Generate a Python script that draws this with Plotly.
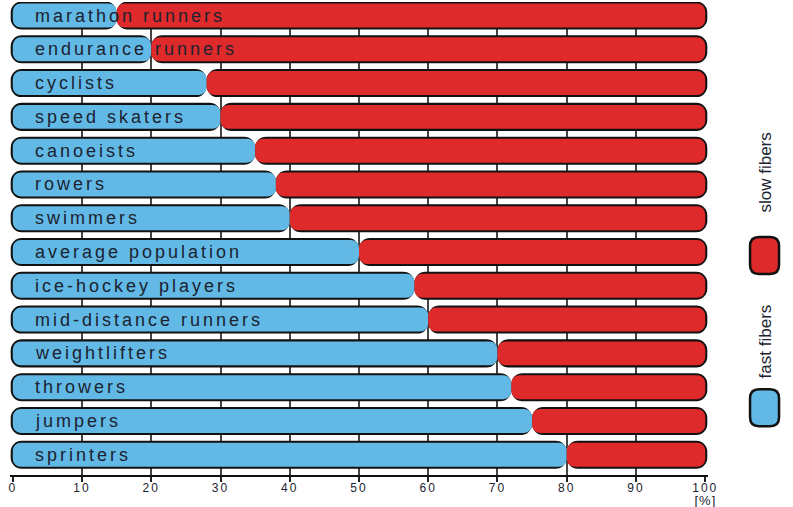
import plotly.graph_objects as go

categories = ["marathon runners", "endurance runners", "cyclists", "speed skaters",
              "canoeists", "rowers", "swimmers", "average population",
              "ice-hockey players", "mid-distance runners", "weightlifters",
              "throwers", "jumpers", "sprinters"]
fast_fibers = [15, 20, 28, 30, 35, 38, 40, 50, 58, 60, 70, 72, 75, 80]
total = 100
slow_fibers = [total - v for v in fast_fibers]
x_ticks = [0, 10, 20, 30, 40, 50, 60, 70, 80, 90, 100]
grid_ticks = x_ticks[1:-1]

BLUE = "#62B9E5"
RED = "#DE2A2B"
INK = "#1b2230"

PAD = 0.3          # outline thickness in x units
BAR_W = 0.71
OUT_W = 0.83
XR = [-0.4, 100.4]

fig = go.Figure()

# black outline layers (behind)
fig.add_trace(go.Bar(y=categories, x=[-(v + PAD) for v in fast_fibers], base=fast_fibers,
                     orientation="h", width=OUT_W, marker=dict(color="#111111", cornerradius=11, line_width=0),
                     hoverinfo="skip", showlegend=False))
fig.add_trace(go.Bar(y=categories, x=[s + PAD for s in slow_fibers], base=fast_fibers,
                     orientation="h", width=OUT_W, marker=dict(color="#111111", cornerradius=11, line_width=0),
                     hoverinfo="skip", showlegend=False))
# fast fibers (blue): drawn from the split back to 0 so the rounded end sits at 0
fig.add_trace(go.Bar(y=categories, x=[-v for v in fast_fibers], base=fast_fibers, xaxis="x2",
                     orientation="h", width=BAR_W, marker=dict(color=BLUE, cornerradius=8, line_width=0),
                     name="fast fibers", showlegend=False))
# slow fibers (red)
fig.add_trace(go.Bar(y=categories, x=slow_fibers, base=fast_fibers, xaxis="x2",
                     orientation="h", width=BAR_W, marker=dict(color=RED, cornerradius=8, line_width=0),
                     name="slow fibers", showlegend=False))

annotations = []
for c in categories:
    annotations.append(dict(x=2.9, y=c, xref="x", yref="y", text=c, showarrow=False,
                            xanchor="left", yanchor="middle", align="left",
                            font=dict(family="Liberation Sans, Arial", size=18, color=INK)))
n_lab = len(annotations)
annotations.append(dict(x=100, y=0, xref="x", yref="paper", text="[%]", showarrow=False,
                        xanchor="center", yanchor="top", yshift=-16,
                        font=dict(family="Liberation Sans, Arial", size=13, color=INK)))
annotations.append(dict(x=1.082, y=0.64, xref="paper", yref="paper", text="slow fibers",
                        showarrow=False, textangle=-90, xanchor="center", yanchor="middle",
                        font=dict(family="Liberation Sans, Arial", size=17, color=INK)))
annotations.append(dict(x=1.082, y=0.283, xref="paper", yref="paper", text="fast fibers",
                        showarrow=False, textangle=-90, xanchor="center", yanchor="middle",
                        font=dict(family="Liberation Sans, Arial", size=17, color=INK)))

def rrect(w, h, r):
    hw, hh = w / 2, h / 2
    return (f"M {-hw + r},{-hh} L {hw - r},{-hh} Q {hw},{-hh} {hw},{-hh + r} "
            f"L {hw},{hh - r} Q {hw},{hh} {hw - r},{hh} L {-hw + r},{hh} "
            f"Q {-hw},{hh} {-hw},{hh - r} L {-hw},{-hh + r} Q {-hw},{-hh} {-hw + r},{-hh} Z")

shapes = []
for color, ya in [(RED, 0.464), (BLUE, 0.142)]:
    shapes.append(dict(type="path", xref="paper", yref="paper", xsizemode="pixel", ysizemode="pixel",
                       xanchor=1.081, yanchor=ya, path=rrect(29, 37, 9),
                       fillcolor=color, line=dict(color="#111111", width=2.5)))

fig.update_layout(
    width=793, height=507,
    margin=dict(l=10, r=85, t=2, b=32),
    paper_bgcolor="white", plot_bgcolor="white",
    barmode="overlay",
    showlegend=False,
    annotations=annotations,
    shapes=shapes,
    xaxis=dict(range=XR, tickvals=x_ticks, ticktext=[str(t) for t in x_ticks],
               ticks="outside", ticklen=5, tickwidth=1.5, tickcolor="#222222",
               ticklabelstandoff=-4,
               showline=True, linecolor="#111111", linewidth=2,
               showgrid=False, zeroline=False,
               tickfont=dict(family="Liberation Sans, Arial", size=12, color=INK)),
    xaxis2=dict(range=XR, overlaying="x", anchor="y", side="bottom",
                tickvals=grid_ticks, showticklabels=False, ticks="",
                showgrid=True, gridcolor="#444444", gridwidth=1.6, zeroline=False, showline=False),
    yaxis=dict(range=[13.6, -0.4], type="category", showticklabels=False, showgrid=False,
               zeroline=False, showline=False, ticks=""),
)

sel = ",".join(f'.annotation[data-index="{i}"] .annotation-text' for i in range(n_lab))
post = ("var s=document.createElement('style');"
        f"s.textContent='body{{margin:0}} {sel}{{letter-spacing:3px}} "
        f".annotation[data-index=\"{n_lab}\"] .annotation-text{{letter-spacing:1px}} "
        ".xtick text{letter-spacing:2px}';"
        "document.head.appendChild(s);")

fig.write_html("out.html", post_script=post, config={"displayModeBar": False})
